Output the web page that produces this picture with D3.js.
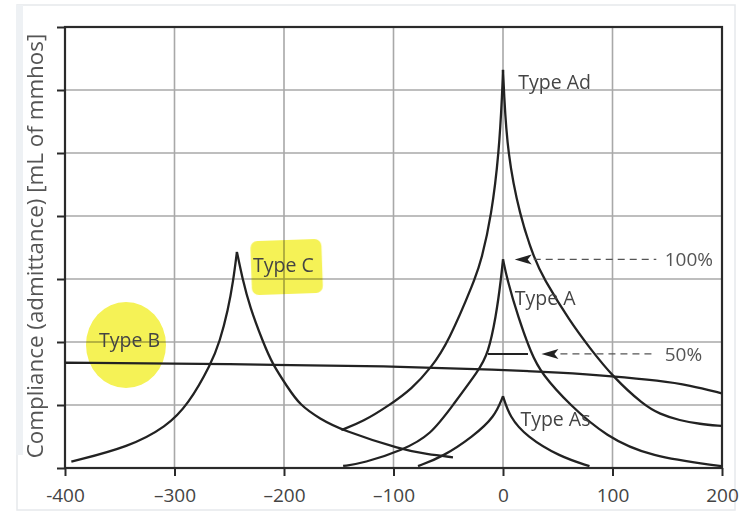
<!DOCTYPE html>
<html>
<head>
<meta charset="utf-8">
<script src="https://cdn.jsdelivr.net/npm/d3@7"></script>
<style>
  html, body { margin: 0; padding: 0; background: #fff; }
  svg { display: block; font-family: "Open Sans", "Noto Sans", sans-serif; }
</style>
</head>
<body>
<svg id="chart" width="742" height="514"></svg>
<script>
// ---------- data (x: pressure daPa, y: compliance in grid units) ----------
const xTicks = [-400, -300, -200, -100, 0, 100, 200];
const xTickLabels = ["-400", "\u2013300", "\u2013200", "\u2013100", "0", "100", "200"];
const yTicks = [0, 1, 2, 3, 4, 5, 6, 7];
const yLabel = "Compliance (admittance) [mL of mmhos]";

const typeAdLeft  = [[-147.6,0.603],[-127.9,0.735],[-103.5,1.0],[-83.4,1.254],[-65.4,1.597],[-50.2,1.987],[-25.8,2.984],[-19.7,3.302],[-10.6,4.0],[-3.65,4.995],[-0.6,6.0],[0,6.32]];
const typeAdRight = [[0,6.32],[0.8,6.0],[4.0,4.995],[15.3,4.0],[29.0,3.30],[38.1,2.98],[60.9,2.333],[79.2,1.905],[100.5,1.444],[128.5,1.0],[143.1,0.857],[161.4,0.754],[179.6,0.698],[199.5,0.667]];

const typeALeft  = [[-146.0,0.032],[-127.9,0.075],[-91.3,0.286],[-66.0,0.524],[-45.7,1.0],[-21.9,1.556],[-13.7,1.81],[-6.4,2.40],[-1.8,3.0],[0,3.313]];
const typeARight = [[0,3.313],[3.7,3.0],[13.7,2.40],[25.9,1.81],[35.1,1.50],[60.9,1.0],[94.4,0.497],[134,0.18],[199.5,0.03]];

const typeAsLeft  = [[-77.6,0.03],[-54.8,0.18],[-27.4,0.50],[-7.6,0.81],[0,1.14]];
const typeAsRight = [[0,1.14],[6.1,0.81],[21.4,0.50],[51.8,0.18],[79,0.03]];

const typeCLeft  = [[-394.2,0.100],[-340.9,0.338],[-307.4,0.656],[-287.7,1.0],[-266.3,1.662],[-258.7,2.005],[-251.1,2.51],[-246.4,2.965],[-243,3.43]];
const typeCRight = [[-243,3.43],[-238.0,3.01],[-231.3,2.56],[-219.2,2.0],[-210.6,1.65],[-197,1.29],[-185.7,1.0],[-167,0.78],[-147.6,0.603],[-91.3,0.286],[-70,0.222],[-45.7,0.17]];

const typeB = [[-400,1.671],[-249.6,1.651],[-100.7,1.614],[-3,1.562],[51.8,1.514],[100.2,1.457],[143.1,1.387],[170.5,1.314],[199.7,1.186]];

const halfLine = [[-13.7,1.81],[22.8,1.81]];

// annotations: [tipX, y, dashEndX, textX, text]
const arrowNotes = [[10.7,3.31,140,147.7,"100%"],[35.1,1.81,140,147.7,"50%"]];
// curve labels: [x, y, text]
const curveLabels = [[14,6.02,"Type Ad"],[10.7,2.59,"Type A"],[15.9,0.667,"Type As"],[-228.3,3.116,"Type C"],[-369,1.925,"Type B"]];

// ---------- layout ----------
const svg = d3.select("#chart");
const x = d3.scaleLinear().domain([-400, 200]).range([65, 722]);
const y = d3.scaleLinear().domain([0, 7]).range([468, 27]);

// faint outer frame (screenshot edge)
svg.append("rect").attr("x", 17).attr("y", 5).attr("width", 718).attr("height", 505)
  .attr("fill", "none").attr("stroke", "#e6e9ec").attr("stroke-width", 1.5);
svg.append("rect").attr("x", 16).attr("y", 5).attr("width", 7).attr("height", 450)
  .attr("fill", "#eef1f4");

// grid
const grid = svg.append("g");
grid.selectAll("line.v").data(xTicks.slice(1, -1)).join("line")
  .attr("x1", d => x(d)).attr("x2", d => x(d)).attr("y1", y(7)).attr("y2", y(0))
  .attr("stroke", "#a8a8a8").attr("stroke-width", 1.6);
grid.selectAll("line.h").data(yTicks.slice(1, -1)).join("line")
  .attr("x1", x(-400)).attr("x2", x(200)).attr("y1", d => y(d)).attr("y2", d => y(d))
  .attr("stroke", "#a8a8a8").attr("stroke-width", 1.6);

// highlights
const hl = svg.append("g").style("mix-blend-mode", "multiply");
hl.append("ellipse").attr("cx", x(-344.3)).attr("cy", y(1.952)).attr("rx", 40).attr("ry", 43)
  .attr("fill", "#f5f256");
hl.append("rect").attr("x", x(-230)).attr("y", y(3.62)).attr("width", 71).attr("height", 54)
  .attr("rx", 7).attr("fill", "#f5f256")
  .attr("transform", `rotate(-2 ${x(-197)} ${y(3.2)})`);

// axes
const xAxis = svg.append("g").attr("transform", `translate(0,${y(0)})`)
  .call(d3.axisBottom(x).tickValues(xTicks).tickSize(8).tickFormat((d, i) => xTickLabels[i]));
xAxis.select(".domain").remove();
xAxis.selectAll(".tick line").attr("stroke", "#2a2a2a").attr("stroke-width", 2);
xAxis.selectAll(".tick text").attr("y", 34).attr("dy", 0).attr("fill", "#444")
  .style("font-size", "19px").style("font-family", "Open Sans");

const yAxis = svg.append("g").attr("transform", `translate(${x(-400)},0)`)
  .call(d3.axisLeft(y).tickValues(yTicks).tickSize(8).tickFormat(""));
yAxis.select(".domain").remove();
yAxis.selectAll(".tick line").attr("stroke", "#2a2a2a").attr("stroke-width", 2);

// frame
svg.append("rect").attr("x", x(-400)).attr("y", y(7)).attr("width", x(200) - x(-400)).attr("height", y(0) - y(7))
  .attr("fill", "none").attr("stroke", "#2a2a2a").attr("stroke-width", 2.2);

// y label
svg.append("text").attr("transform", `translate(43,246) rotate(-90)`)
  .attr("text-anchor", "middle").attr("fill", "#555").style("font-size", "22.4px")
  .text(yLabel);

// curves
const line = d3.line().x(d => x(d[0])).y(d => y(d[1])).curve(d3.curveBasis);
const curves = [typeAdLeft, typeAdRight, typeALeft, typeARight, typeAsLeft, typeAsRight, typeCLeft, typeCRight, typeB];
svg.append("g").selectAll("path").data(curves).join("path")
  .attr("d", line).attr("fill", "none").attr("stroke", "#222").attr("stroke-width", 2.3)
  .attr("stroke-linejoin", "miter");
svg.append("path").attr("d", d3.line().x(d => x(d[0])).y(d => y(d[1]))(halfLine))
  .attr("fill", "none").attr("stroke", "#222").attr("stroke-width", 2);

// arrows
const ag = svg.append("g");
arrowNotes.forEach(([tx, ty, ex, txt, label]) => {
  const px = x(tx), py = y(ty);
  ag.append("path").attr("d", `M${px},${py} L${px + 17},${py - 5} L${px + 13},${py} L${px + 17},${py + 5} Z`)
    .attr("fill", "#222");
  ag.append("line").attr("x1", px + 19).attr("x2", x(ex)).attr("y1", py).attr("y2", py)
    .attr("stroke", "#555").attr("stroke-width", 1.3).attr("stroke-dasharray", "7,5");
  ag.append("text").attr("x", x(txt)).attr("y", py).attr("dy", "0.36em")
    .attr("fill", "#555").style("font-size", "19px").text(label);
});

// curve labels
svg.append("g").selectAll("text").data(curveLabels).join("text")
  .attr("x", d => x(d[0])).attr("y", d => y(d[1])).attr("fill", "#444")
  .style("font-size", "19.5px").text(d => d[2]);
</script>
</body>
</html>
